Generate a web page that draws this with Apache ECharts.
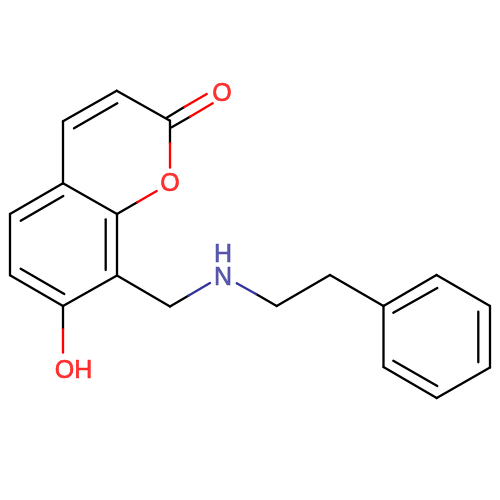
<!DOCTYPE html>
<html><head><meta charset="utf-8">
<style>html,body{margin:0;padding:0;background:#fff}#c{width:500px;height:500px}</style>
<script src="https://cdn.jsdelivr.net/npm/echarts@6/dist/echarts.min.js"></script>
</head><body><div id="c"></div>
<script>
const blackBonds = [
  [[63,121.3],[116.7,90.7]], [[74,128.3],[117.3,103.3]], [[116.7,90.7],[170,120.7]],
  [[170,120.7],[170,143.3]], [[63,121.3],[63,183.3]],
  [[63,183.3],[10,214]], [[20.7,220.7],[63.3,196]], [[63,183.3],[117,214]],
  [[117,214],[137.3,202.3]], [[117,214],[117,275.5]], [[105.7,219.3],[105.7,270]],
  [[10,214],[10,275.3]], [[10,275.3],[63,306]], [[20.7,268.7],[64.3,294]],
  [[63,306],[117,275.5]], [[63,306],[63,329.3]], [[117,275.5],[170,306.5]],
  [[170,306.5],[188.3,295.7]], [[256,294],[276.7,306]], [[276.7,306],[330,275]],
  [[330,275],[383.5,306]], [[383.5,306],[436.5,275]], [[393.3,312.7],[437.3,288]],
  [[436.5,275],[490,306]], [[490,306],[490,367.5]], [[478.3,311.7],[478.3,362.3]],
  [[490,367.5],[436.7,398]], [[436.7,398],[383.5,367]], [[393.3,360.7],[437.3,386]],
  [[383.5,367],[383.5,306]], [[166.7,117.7],[184.3,107]], [[171.7,127.3],[190,116.7]]
];
const redBonds = [
  [[184.3,107],[206.7,94]], [[190,116.7],[212.7,103.3]],
  [[170,143.3],[170,167.7]], [[137.3,202.3],[156.7,191]], [[63,329.3],[63,352.7]]
];
const blueBonds = [
  [[188.3,295.7],[210,283]], [[236.7,283.3],[256,294]]
];
const redLabels = [['O',222,94],['O',170,184],['OH',73.5,371.5]];
const blueLabels = [['H',223,255],['N',223,278]];
const bondSeries = (bonds,color)=>bonds.map(b=>({
  type:'line',data:b,symbol:'none',silent:true,animation:false,
  lineStyle:{color,width:2.3,cap:'round'}
}));
const labelSeries = (labels,color)=>({
  type:'scatter',symbolSize:0,silent:true,animation:false,
  data:labels.map(l=>({value:[l[1],l[2]],name:l[0]})),
  label:{show:true,position:'inside',formatter:p=>p.name,color,
    textBorderColor:color,textBorderWidth:0.6,
    fontFamily:'Liberation Sans',fontSize:25,align:'center',verticalAlign:'middle'}
});
const chart = echarts.init(document.getElementById('c'),null,{renderer:'canvas'});
chart.setOption({
  backgroundColor:'#fff',
  grid:{left:0,right:0,top:0,bottom:0},
  xAxis:{type:'value',min:0,max:500,show:false},
  yAxis:{type:'value',min:0,max:500,inverse:true,show:false},
  series:[
    ...bondSeries(blackBonds,'#000'),
    ...bondSeries(redBonds,'#ff0000'),
    ...bondSeries(blueBonds,'#333399'),
    labelSeries(redLabels,'#ff0000'),
    labelSeries(blueLabels,'#333399')
  ]
});
</script></body></html>
